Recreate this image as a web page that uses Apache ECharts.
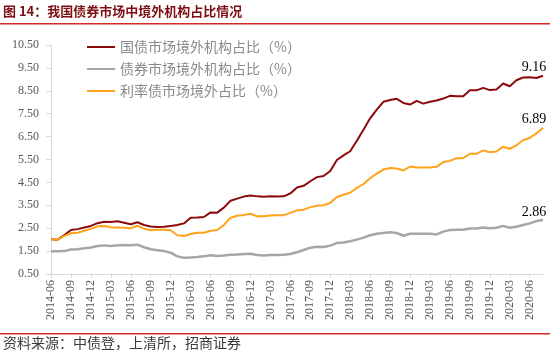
<!DOCTYPE html>
<html>
<head>
<meta charset="utf-8">
<script src="https://cdn.jsdelivr.net/npm/echarts@6/dist/echarts.min.js"></script>
<style>
  html, body { margin: 0; padding: 0; background: #fff; }
  #main { width: 550px; height: 352px; }
</style>
</head>
<body>
<div id="main"></div>
<script>
// 2014-06 ~ 2020-08, monthly
let months = [
    '2014-06', '2014-07', '2014-08', '2014-09', '2014-10', '2014-11', '2014-12',
    '2015-01', '2015-02', '2015-03', '2015-04', '2015-05', '2015-06', '2015-07', '2015-08', '2015-09', '2015-10', '2015-11', '2015-12',
    '2016-01', '2016-02', '2016-03', '2016-04', '2016-05', '2016-06', '2016-07', '2016-08', '2016-09', '2016-10', '2016-11', '2016-12',
    '2017-01', '2017-02', '2017-03', '2017-04', '2017-05', '2017-06', '2017-07', '2017-08', '2017-09', '2017-10', '2017-11', '2017-12',
    '2018-01', '2018-02', '2018-03', '2018-04', '2018-05', '2018-06', '2018-07', '2018-08', '2018-09', '2018-10', '2018-11', '2018-12',
    '2019-01', '2019-02', '2019-03', '2019-04', '2019-05', '2019-06', '2019-07', '2019-08', '2019-09', '2019-10', '2019-11', '2019-12',
    '2020-01', '2020-02', '2020-03', '2020-04', '2020-05', '2020-06', '2020-07', '2020-08'
];

let names = ['国债市场境外机构占比（%）', '债券市场境外机构占比（%）', '利率债市场境外占比（%）'];

let govBond = [
    2.02, 2.00, 2.20, 2.42, 2.46, 2.53, 2.60,
    2.72, 2.78, 2.77, 2.80, 2.74, 2.67, 2.76, 2.64, 2.57, 2.55, 2.56, 2.60,
    2.64, 2.71, 2.96, 2.97, 2.99, 3.19, 3.18, 3.40, 3.70, 3.79, 3.88, 3.93,
    3.89, 3.87, 3.90, 3.88, 3.89, 4.02, 4.28, 4.35, 4.55, 4.73, 4.78, 5.00,
    5.48, 5.68, 5.86, 6.32, 6.80, 7.30, 7.68, 8.02, 8.10, 8.15, 7.97, 7.90,
    8.06, 7.94, 8.02, 8.08, 8.16, 8.28, 8.26, 8.26, 8.52, 8.52, 8.63, 8.53,
    8.56, 8.82, 8.70, 8.96, 9.08, 9.09, 9.06, 9.16
];

let allBond = [
    1.49, 1.49, 1.50, 1.57, 1.58, 1.62, 1.66,
    1.72, 1.75, 1.72, 1.75, 1.77, 1.76, 1.78, 1.67, 1.58, 1.54, 1.50, 1.43,
    1.27, 1.21, 1.22, 1.24, 1.27, 1.32, 1.29, 1.31, 1.34, 1.35, 1.37, 1.38,
    1.33, 1.31, 1.33, 1.33, 1.34, 1.37, 1.45, 1.55, 1.65, 1.69, 1.68, 1.74,
    1.85, 1.88, 1.93, 2.00, 2.09, 2.19, 2.26, 2.29, 2.32, 2.29, 2.17, 2.26,
    2.26, 2.26, 2.26, 2.23, 2.35, 2.42, 2.43, 2.43, 2.49, 2.49, 2.53, 2.50,
    2.52, 2.60, 2.52, 2.56, 2.64, 2.71, 2.81, 2.86
];

let rateBond = [
    2.02, 2.00, 2.16, 2.28, 2.30, 2.39, 2.47,
    2.58, 2.60, 2.54, 2.53, 2.52, 2.50, 2.60, 2.48, 2.41, 2.43, 2.43, 2.41,
    2.19, 2.16, 2.25, 2.30, 2.30, 2.39, 2.42, 2.64, 2.96, 3.04, 3.08, 3.13,
    3.02, 3.02, 3.05, 3.07, 3.07, 3.17, 3.28, 3.31, 3.42, 3.48, 3.50, 3.60,
    3.86, 3.96, 4.05, 4.26, 4.43, 4.68, 4.88, 5.06, 5.13, 5.11, 5.02, 5.19,
    5.15, 5.15, 5.15, 5.18, 5.39, 5.44, 5.56, 5.56, 5.75, 5.75, 5.90, 5.82,
    5.85, 6.06, 5.97, 6.12, 6.34, 6.44, 6.64, 6.89
];

let colors = ['#8b0a0a', '#a6a6a6', '#ffa31a'];
let serif = 'Liberation Serif';
let cjk = 'Noto Sans CJK SC';

// every series ends at its highest value, so the end label is the max point
let makeSeries = function(name, values, color, width) {
    return {
        name: name,
        type: 'line',
        data: values,
        symbol: 'none',
        lineStyle: { color: color, width: width },
        itemStyle: { color: color },
        markPoint: {
            symbol: 'circle',
            symbolSize: 0,
            silent: true,
            data: [{ type: 'max' }],
            label: {
                show: true,
                position: 'top',
                distance: 1,
                offset: [-9, 0],
                color: '#000',
                fontFamily: serif,
                fontSize: 14,
                formatter: function(p) { return p.value.toFixed(2); }
            }
        }
    };
};

let chart = echarts.init(document.getElementById('main'));

chart.setOption({
    animation: false,
    title: [
        {
            text: '图 14：我国债券市场中境外机构占比情况',
            left: 3,
            top: 5,
            padding: 0,
            textStyle: { fontFamily: cjk, fontSize: 13, fontWeight: 'bold', color: '#7d0f12' }
        },
        {
            text: '资料来源：中债登，上清所，招商证券',
            left: 3,
            top: 336,
            padding: 0,
            textStyle: { fontFamily: cjk, fontSize: 14, fontWeight: 'normal', color: '#3a3a3a' }
        }
    ],
    graphic: [
        { type: 'rect', shape: { x: 0, y: 23, width: 550, height: 1.5 }, style: { fill: '#d42a2a' } },
        { type: 'rect', shape: { x: 0, y: 333, width: 550, height: 1.5 }, style: { fill: '#d42a2a' } }
    ],
    legend: {
        orient: 'vertical',
        left: 87,
        top: 40,
        padding: 0,
        itemWidth: 28,
        itemHeight: 14,
        itemGap: 8,
        icon: 'path://M0,0H28V2H0Z',
        data: names,
        textStyle: { fontFamily: cjk, fontSize: 14, color: '#8a8a8a' }
    },
    grid: {
        left: 51,
        right: 7,
        top: 45,
        bottom: 78,
        containLabel: false
    },
    xAxis: {
        type: 'category',
        data: months,
        boundaryGap: false,
        axisLine: { lineStyle: { color: '#d9d9d9' } },
        axisTick: { interval: 2, length: 4, lineStyle: { color: '#d9d9d9' } },
        axisLabel: {
            interval: 2,
            rotate: 90,
            margin: 6,
            fontFamily: serif,
            fontSize: 12,
            color: '#595959'
        },
        splitLine: { show: false }
    },
    yAxis: {
        type: 'value',
        min: 0.5,
        max: 10.5,
        interval: 1,
        axisLine: { show: true, lineStyle: { color: '#d9d9d9' } },
        axisTick: { show: true, length: 5, lineStyle: { color: '#d9d9d9' } },
        axisLabel: {
            margin: 12,
            fontFamily: serif,
            fontSize: 12,
            color: '#595959',
            formatter: function(v) { return v.toFixed(2); }
        },
        splitLine: { show: false }
    },
    series: [
        makeSeries(names[0], govBond, colors[0], 2),
        makeSeries(names[1], allBond, colors[1], 2.5),
        makeSeries(names[2], rateBond, colors[2], 2)
    ]
});
</script>
</body>
</html>
